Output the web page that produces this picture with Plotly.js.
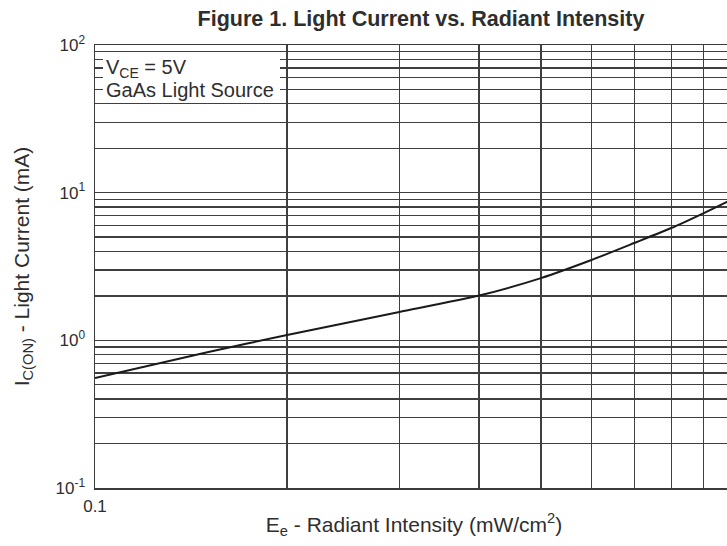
<!DOCTYPE html>
<html>
<head>
<meta charset="utf-8">
<script src="https://cdn.plot.ly/plotly-3.0.1.min.js"></script>
<style>
html,body{margin:0;padding:0;overflow:hidden;background:#fff;width:727px;height:546px;}
#chart{width:760px;height:546px;}
</style>
</head>
<body>
<div id="chart"></div>
<script>
// Radiant intensity Ee (mW/cm^2)
const radiantIntensity = [0.1, 0.15, 0.2, 0.3, 0.4, 0.5, 0.6, 0.7, 0.8, 0.9, 1.0];
// Light current Ic(on) (mA)
const lightCurrent = [0.556, 0.83, 1.087, 1.556, 2.01, 2.64, 3.50, 4.56, 5.76, 7.28, 9.06];

const xGridVals = [0.1, 0.2, 0.3, 0.4, 0.5, 0.6, 0.7, 0.8, 0.9, 1];
const xTickText = ['0.1', '', '', '', '', '', '', '', '', '1'];

const yDecades = [0.1, 1, 10, 100];
const yDecadeText = ['10<sup>-1</sup>', '10<sup>0</sup>', '10<sup>1</sup>', '10<sup>2</sup>'];
const yGridVals = [];
const yTickText = [];
[0.1, 1, 10].forEach(function (d, i) {
  for (let m = 1; m <= 9; m++) {
    yGridVals.push(+(d * m).toPrecision(3));
    yTickText.push(m === 1 ? yDecadeText[i] : '');
  }
});
yGridVals.push(100);
yTickText.push(yDecadeText[3]);

const textColor = '#2e2e2e';
const gridColor = '#3f3f3f';
const fontFam = 'Liberation Sans, Arial, sans-serif';

const trace = {
  x: radiantIntensity,
  y: lightCurrent,
  type: 'scatter',
  mode: 'lines',
  line: {color: '#1a1a1a', width: 2, shape: 'spline', smoothing: 0.6},
  showlegend: false,
  hoverinfo: 'x+y'
};

const layout = {
  width: 760,
  height: 546,
  margin: {l: 95, r: 27, t: 45, b: 58},
  paper_bgcolor: '#fff',
  plot_bgcolor: '#fff',
  font: {family: fontFam, color: textColor, size: 17},
  title: {
    text: '<b>Figure 1. Light Current vs. Radiant Intensity</b>',
    font: {family: fontFam, size: 21.5, color: textColor},
    x: 421 / 760, xref: 'container', xanchor: 'center',
    y: 1 - 18 / 546, yref: 'container', yanchor: 'middle'
  },
  xaxis: {
    type: 'log',
    range: [-1, 0],
    tickvals: xGridVals,
    ticktext: xTickText,
    ticks: '',
    showgrid: true,
    gridcolor: gridColor,
    gridwidth: 1.3,
    showline: true,
    linecolor: '#3a3a3a',
    linewidth: 1.5,
    mirror: true,
    zeroline: false,
    tickfont: {size: 17, color: textColor},
    ticklabelstandoff: 2,
    title: {
      text: 'E<sub>e</sub> - Radiant Intensity (mW/cm<sup>2</sup>)',
      font: {size: 21, color: textColor},
      standoff: 2
    }
  },
  yaxis: {
    type: 'log',
    range: [-1, 2],
    tickvals: yGridVals,
    ticktext: yTickText,
    ticks: '',
    showgrid: true,
    gridcolor: gridColor,
    gridwidth: 1.3,
    showline: true,
    linecolor: '#3a3a3a',
    linewidth: 1.5,
    mirror: true,
    zeroline: false,
    tickfont: {size: 17, color: textColor},
    ticklabelstandoff: 5,
    title: {
      text: 'I<sub>C(ON)</sub> - Light Current (mA)',
      font: {size: 21, color: textColor},
      standoff: 20
    }
  },
  shapes: [{
    type: 'rect', xref: 'paper', yref: 'paper', layer: 'above',
    x0: 8 / 638, x1: 185 / 638, y0: 1 - 52 / 443, y1: 1 - 10 / 443,
    fillcolor: '#ffffff', line: {width: 0}
  }],
  annotations: [
    {text: 'V<sub>CE</sub> = 5V', xref: 'paper', yref: 'paper',
     x: 9 / 638, y: 1 - 24 / 443, xanchor: 'left', yanchor: 'middle',
     showarrow: false, font: {size: 20, color: textColor}},
    {text: 'GaAs Light Source', xref: 'paper', yref: 'paper',
     x: 9 / 638, y: 1 - 45 / 443, xanchor: 'left', yanchor: 'middle',
     showarrow: false, font: {size: 20, color: textColor}}
  ]
};

Plotly.newPlot('chart', [trace], layout, {displayModeBar: false, staticPlot: true});
</script>
</body>
</html>
